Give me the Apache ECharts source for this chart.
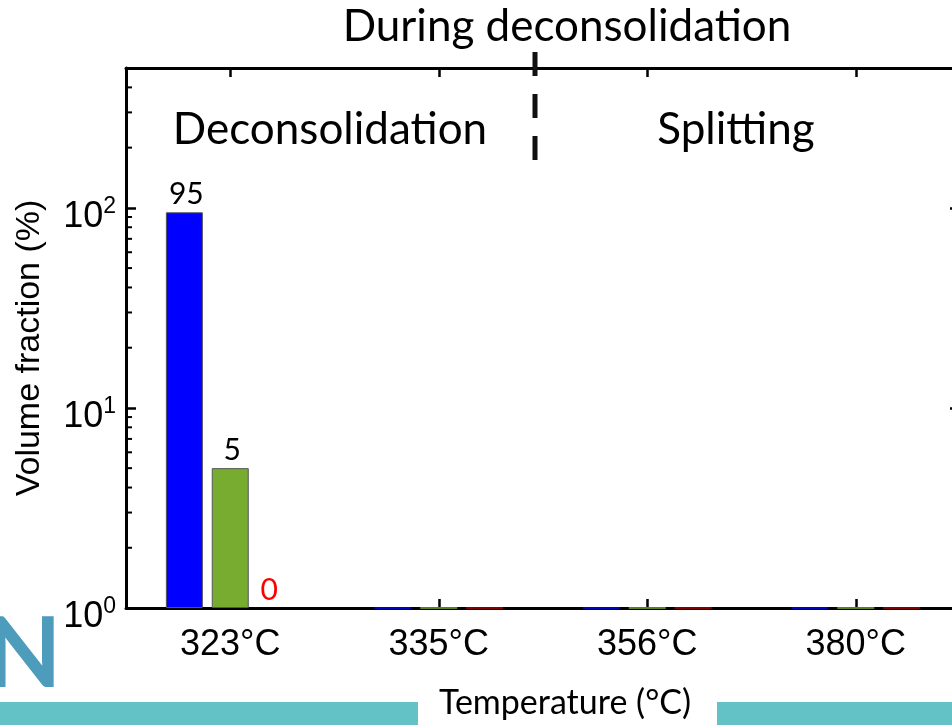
<!DOCTYPE html>
<html>
<head>
<meta charset="utf-8">
<script src="https://cdn.jsdelivr.net/npm/echarts@6/dist/echarts.min.js"></script>
<style>
html,body{margin:0;padding:0;background:#fff;overflow:hidden;}
body{width:952px;height:725px;}
#chart{width:964px;height:725px;}
</style>
</head>
<body>
<div id="chart"></div>
<script>
// ---- data ----
const categories = ['323°C', '335°C', '356°C', '380°C'];
const seriesBlue  = [95, 0, 0, 0];
const seriesGreen = [5, 0, 0, 0];
const seriesRed   = [0, 0, 0, 0];
const labelShown  = [true, false, false, false];
const yMin = 1, yMax = 500;
const majorTicks = [1, 10, 100];
const minorTicks = [2, 3, 4, 5, 6, 7, 8, 9, 20, 30, 40, 50, 60, 70, 80, 90, 200, 300, 400];
const titleText = 'During deconsolidation';
const regionLeft = 'Deconsolidation';
const regionRight = 'Splitting';
const yName = 'Volume fraction (%)';
const xName = 'Temperature (°C)';

const chart = echarts.init(document.getElementById('chart'), null, {renderer: 'canvas'});

const HEAD_FONT = 'Lato, "Open Sans", sans-serif';
const AX_FONT = '"Liberation Sans", Arial, sans-serif';

function barData(vals, color, labelColor, labelOffset) {
  return vals.map((v, i) => {
    const plotted = v > 0 ? v : yMin;
    return {
      value: plotted,
      itemStyle: v > 0
        ? {color: color, borderColor: '#555', borderWidth: 1}
        : {color: color, borderColor: (labelShown[i] ? 'rgba(0,0,0,0)' : color), borderWidth: labelShown[i] ? 0 : 1.5},
      label: {
        show: labelShown[i],
        position: 'top',
        distance: 3,
        offset: labelOffset,
        formatter: String(v),
        fontFamily: HEAD_FONT,
        fontSize: 30,
        color: labelColor
      }
    };
  });
}

function supLabel(v) {
  const e = Math.round(Math.log10(v));
  if (Math.abs(Math.pow(10, e) - v) > 1e-6) return '';
  return '{b|10}{s|' + e + '}';
}

const yAxisCommon = {
  type: 'log',
  logBase: 10,
  min: yMin,
  max: yMax,
  axisLine: {show: true, lineStyle: {color: '#000', width: 3}},
  axisTick: {show: true, inside: true, length: 10, customValues: majorTicks, lineStyle: {color: '#000', width: 2.5}},
  minorTick: {show: false},
  splitLine: {show: false}
};

const option = {
  animation: false,
  backgroundColor: '#ffffff',
  grid: {left: 126, top: 68, width: 834, height: 540, containLabel: false},
  xAxis: [
    {
      type: 'category',
      data: categories,
      position: 'bottom',
      boundaryGap: true,
      axisLine: {show: true, lineStyle: {color: '#000', width: 3}},
      axisTick: {show: true, inside: true, length: 9, alignWithLabel: true, lineStyle: {color: '#000', width: 2.5}},
      axisLabel: {show: true, margin: 19, fontFamily: AX_FONT, fontSize: 36, color: '#000'},
      splitLine: {show: false}
    },
    {
      type: 'category',
      data: categories,
      position: 'top',
      boundaryGap: true,
      axisLine: {show: true, lineStyle: {color: '#000', width: 3}},
      axisTick: {show: true, inside: true, length: 9, alignWithLabel: true, lineStyle: {color: '#000', width: 2.5}},
      axisLabel: {show: false},
      splitLine: {show: false}
    }
  ],
  yAxis: [
    Object.assign({}, yAxisCommon, {
      position: 'left',
      axisLabel: {
        show: true,
        margin: 10,
        customValues: majorTicks,
        formatter: supLabel,
        padding: [14, 0, 0, 0],
        rich: {
          b: {fontFamily: AX_FONT, fontSize: 36, color: '#000', lineHeight: 40, verticalAlign: 'bottom'},
          s: {fontFamily: AX_FONT, fontSize: 23, color: '#000', lineHeight: 23, verticalAlign: 'top'}
        }
      }
    }),
    Object.assign({}, yAxisCommon, {
      position: 'right',
      axisLabel: {show: false, customValues: majorTicks}
    })
  ],
  series: [
    {
      type: 'bar', name: 'A', xAxisIndex: 0, yAxisIndex: 0,
      barWidth: 37, barGap: '24%',
      data: barData(seriesBlue, '#0000FF', '#000', [2, 0])
    },
    {
      type: 'bar', name: 'B', xAxisIndex: 0, yAxisIndex: 0,
      barWidth: 37, barGap: '24%',
      data: barData(seriesGreen, '#77AC30', '#000', [2, 0])
    },
    {
      type: 'bar', name: 'C', xAxisIndex: 0, yAxisIndex: 0,
      barWidth: 37, barGap: '24%',
      data: barData(seriesRed, '#B00000', '#FF0000', [-7, 0])
    },
    {
      type: 'custom', name: 'minorTicks', xAxisIndex: 0, yAxisIndex: 0,
      silent: true, z: 10,
      data: minorTicks.map(v => [0, v]),
      encode: {x: 0, y: 1},
      renderItem: function (params, api) {
        const y = api.coord([0, api.value(1)])[1];
        const cs = params.coordSys;
        return {
          type: 'group',
          children: [
            {type: 'line', shape: {x1: cs.x, y1: y, x2: cs.x + 6, y2: y}, style: {stroke: '#000', lineWidth: 2}},
            {type: 'line', shape: {x1: cs.x + cs.width, y1: y, x2: cs.x + cs.width - 6, y2: y}, style: {stroke: '#000', lineWidth: 2}}
          ]
        };
      }
    }
  ],
  graphic: [
    {type: 'text', z: 50, style: {text: titleText, x: 567, y: 27, textAlign: 'center', textVerticalAlign: 'middle', font: '44px ' + HEAD_FONT, fill: '#000'}},
    {type: 'text', z: 50, style: {text: regionLeft, x: 330, y: 130, textAlign: 'center', textVerticalAlign: 'middle', font: '44px ' + HEAD_FONT, fill: '#000'}},
    {type: 'text', z: 50, style: {text: regionRight, x: 736, y: 130, textAlign: 'center', textVerticalAlign: 'middle', font: '44px ' + HEAD_FONT, fill: '#000'}},
    {type: 'line', z: 60, shape: {x1: 535, y1: 52, x2: 535, y2: 160}, style: {stroke: '#111', lineWidth: 5, lineDash: [24, 18]}},
    {type: 'text', z: 50, rotation: Math.PI / 2, x: 30, y: 348, style: {text: yName, x: 0, y: 0, textAlign: 'center', textVerticalAlign: 'middle', font: '34px ' + AX_FONT, fill: '#000'}},
    {type: 'rect', z: 5, shape: {x: 0, y: 702, width: 418, height: 23}, style: {fill: '#62C2C6'}},
    {type: 'rect', z: 5, shape: {x: 717, y: 702, width: 250, height: 23}, style: {fill: '#62C2C6'}},
    {type: 'text', z: 50, style: {text: xName, x: 565, y: 703, textAlign: 'center', textVerticalAlign: 'middle', font: '34px ' + HEAD_FONT, fill: '#000'}},
    {type: 'text', z: 50, style: {text: 'N', x: -14, y: 655, textAlign: 'left', textVerticalAlign: 'middle', font: 'bold 98px ' + HEAD_FONT, fill: '#4E9CBB'}}
  ]
};

chart.setOption(option);
</script>
</body>
</html>
